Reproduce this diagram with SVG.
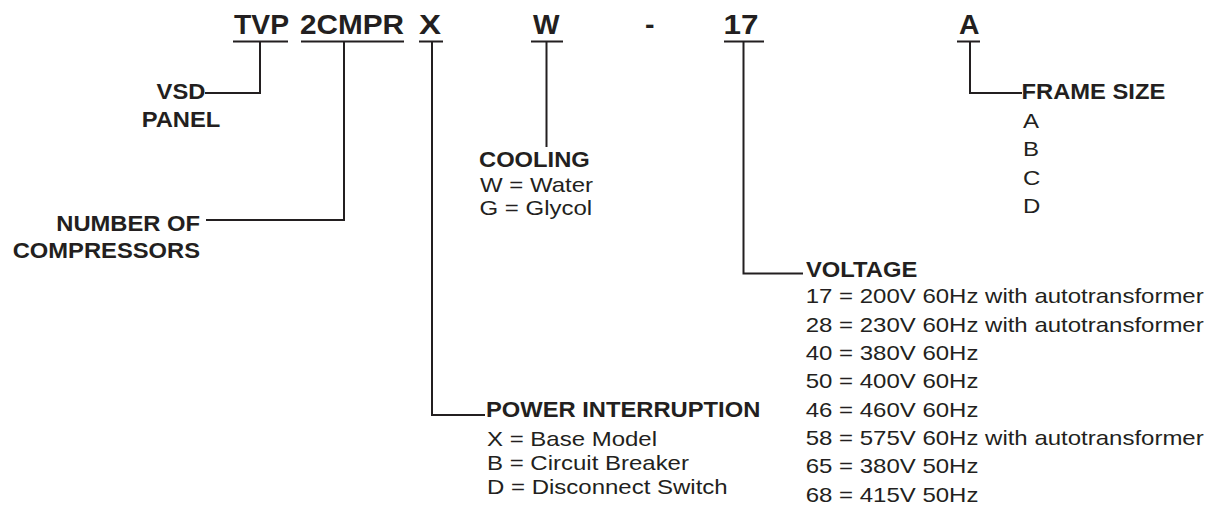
<svg xmlns="http://www.w3.org/2000/svg" width="1211" height="508" viewBox="0 0 1211 508">
<style>
text{font-family:"Liberation Sans",Arial,Helvetica,sans-serif;fill:#231f20}
.c{font-size:28px;font-weight:bold}
.b{font-size:22px;font-weight:bold}
.r{font-size:20px}
.ln{fill:none;stroke:#231f20;stroke-width:2}
</style>
<rect width="1211" height="508" fill="#fff"/>
<g id="code">
<text class="c" x="234" y="34" textLength="55" lengthAdjust="spacingAndGlyphs">TVP</text>
<text class="c" x="300" y="34" textLength="104" lengthAdjust="spacingAndGlyphs">2CMPR</text>
<text class="c" x="419" y="34" textLength="22" lengthAdjust="spacingAndGlyphs">X</text>
<text class="c" x="533" y="34" textLength="26.5" lengthAdjust="spacingAndGlyphs">W</text>
<text class="c" x="645" y="34" textLength="9.5" lengthAdjust="spacingAndGlyphs">-</text>
<text class="c" x="723.5" y="34" textLength="35" lengthAdjust="spacingAndGlyphs">17</text>
<text class="c" x="959" y="34" textLength="20.5" lengthAdjust="spacingAndGlyphs">A</text>
<path class="ln" d="M233 41.5H288M301 41.5H404M419 41.5H443M531 41.5H563M724 41.5H764M957 41.5H980"/>
</g>
<g id="connectors">
<path class="ln" d="M260 41.5V93H205"/>
<path class="ln" d="M344 41.5V220H206"/>
<path class="ln" d="M432 41.5V415H485"/>
<path class="ln" d="M546.5 41.5V147"/>
<path class="ln" d="M743.5 41.5V273.5H803"/>
<path class="ln" d="M970 41.5V93H1022"/>
</g>
<g id="vsd-panel">
<text class="b" text-anchor="middle" transform="matrix(1.08 0 0 1 181 99)">VSD</text>
<text class="b" text-anchor="middle" transform="matrix(1.08 0 0 1 181 127)">PANEL</text>
</g>
<g id="compressors">
<text class="b" text-anchor="end" transform="matrix(1.08 0 0 1 200 230.5)">NUMBER OF</text>
<text class="b" text-anchor="end" transform="matrix(1.08 0 0 1 200 258.3)">COMPRESSORS</text>
</g>
<g id="cooling">
<text class="b" transform="matrix(1.08 0 0 1 479 167.3)">COOLING</text>
<text class="r" transform="matrix(1.2 0 0 1 480 191.5)">W = Water</text>
<text class="r" transform="matrix(1.2 0 0 1 479.5 215)">G = Glycol</text>
</g>
<g id="power-interruption">
<text class="b" transform="matrix(1.08 0 0 1 486 416.7)">POWER INTERRUPTION</text>
<text class="r" transform="matrix(1.2 0 0 1 487 446.3)">X = Base Model</text>
<text class="r" transform="matrix(1.2 0 0 1 487 470.2)">B = Circuit Breaker</text>
<text class="r" transform="matrix(1.2 0 0 1 487 494)">D = Disconnect Switch</text>
</g>
<g id="voltage">
<text class="b" transform="matrix(1.08 0 0 1 806 276.7)">VOLTAGE</text>
<text class="r" transform="matrix(1.2 0 0 1 805.7 303.3)">17 = 200V 60Hz with autotransformer</text>
<text class="r" transform="matrix(1.2 0 0 1 805.7 331.6)">28 = 230V 60Hz with autotransformer</text>
<text class="r" transform="matrix(1.2 0 0 1 805.7 360)">40 = 380V 60Hz</text>
<text class="r" transform="matrix(1.2 0 0 1 805.7 388.3)">50 = 400V 60Hz</text>
<text class="r" transform="matrix(1.2 0 0 1 805.7 416.7)">46 = 460V 60Hz</text>
<text class="r" transform="matrix(1.2 0 0 1 805.7 445)">58 = 575V 60Hz with autotransformer</text>
<text class="r" transform="matrix(1.2 0 0 1 805.7 473.3)">65 = 380V 50Hz</text>
<text class="r" transform="matrix(1.2 0 0 1 805.7 501.7)">68 = 415V 50Hz</text>
</g>
<g id="frame-size">
<text class="b" transform="matrix(1.08 0 0 1 1021.5 99)">FRAME SIZE</text>
<text class="r" transform="matrix(1.2 0 0 1 1023 127.5)">A</text>
<text class="r" transform="matrix(1.2 0 0 1 1023 156)">B</text>
<text class="r" transform="matrix(1.2 0 0 1 1023 184.5)">C</text>
<text class="r" transform="matrix(1.2 0 0 1 1023 213)">D</text>
</g>
</svg>
